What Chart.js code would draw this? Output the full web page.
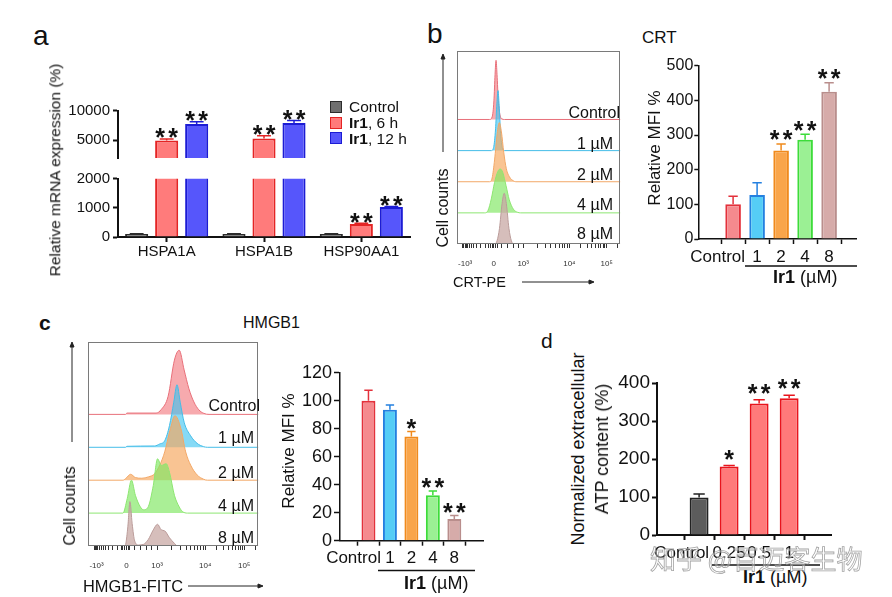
<!DOCTYPE html>
<html>
<head>
<meta charset="utf-8">
<title>Ir1 ICD markers</title>
<script src="https://cdn.jsdelivr.net/npm/chart.js@4.4.1/dist/chart.umd.min.js"></script>
<style>
  html, body { margin: 0; padding: 0; background: #fff; }
  #fig { position: relative; width: 892px; height: 597px; overflow: hidden; font-family: "Liberation Sans", Arial, sans-serif; color: #111; }
  #fig canvas { position: absolute; }
  #fig svg { position: absolute; left: 0; top: 0; }
  .t { position: absolute; white-space: nowrap; line-height: 1; }
</style>
</head>
<body>
<div id="fig">
  <svg width="892" height="597">
    <g stroke="#222" stroke-width="1" fill="#222">
      <line x1="443" y1="152" x2="443" y2="58"/><polygon points="443,54 441,59 445,59"/>
      <line x1="522" y1="282" x2="590" y2="282"/><polygon points="594,282 589,280 589,284"/>
      <line x1="72" y1="442" x2="72" y2="346"/><polygon points="72,342 70,347 74,347"/>
      <line x1="188" y1="586" x2="259" y2="586"/><polygon points="263,586 258,584 258,588"/>
    </g>
    <g stroke="#111" stroke-width="1.5">
      <line x1="745" y1="266" x2="857" y2="266"/>
      <line x1="378" y1="570.5" x2="475" y2="570.5"/>
      <line x1="712" y1="565" x2="820" y2="565"/>
    </g>
  </svg>
</div>
<script>
// ---- a: relative mRNA expression (%)
const genes = ['HSPA1A', 'HSPA1B', 'HSP90AA1'];
const mrnaSeries = ['Control', 'Ir1, 6 h', 'Ir1, 12 h'];
const mrnaCtrl = [100, 100, 100];
const mrnaCtrlErr = [115, 112, 110];
const mrna6h = [4980, 5310, 445];
const mrna6hErr = [5200, 5760, 470];
const mrna12h = [7770, 7910, 1025];
const mrna12hErr = [8140, 8360, 1050];
const mrna6hStars = [2, 2, 2];
const mrna12hStars = [2, 2, 2];

// ---- b / c: relative MFI %
const doseLabels = ['Control', '1', '2', '4', '8'];
const crtMfi = [100, 127, 255, 286, 425];
const crtErr = [123, 162, 274, 302, 451];
const crtStars = [0, 0, 2, 2, 2];
const hmgbMfi = [100, 93.5, 74.5, 32.5, 15.5];
const hmgbErr = [107.5, 97, 78, 35.5, 18];
const hmgbStars = [0, 0, 1, 2, 2];

// ---- d: normalized extracellular ATP
const atpLabels = ['Control', '0.25', '0.5', '1'];
const atpContent = [99, 180, 346, 360];
const atpErr = [108, 183, 356, 368];
const atpStars = [0, 1, 2, 2];

// ---- flow histograms: [position on axis (0-100), height in row units]
const histSamples = ['Control', '1 µM', '2 µM', '4 µM', '8 µM'];
const crtHist = [
  [[0,0],[20,0],[21.5,0.08],[22.6,0.6],[23.3,1.45],[23.9,1.9],[24.5,1.45],[25.3,0.6],[26.3,0.15],[27.5,0.02],[29,0],[100,0]],
  [[0,0],[21,0],[22.4,0.1],[23.6,0.7],[24.4,1.5],[25.1,1.93],[25.8,1.45],[26.7,0.55],[27.7,0.1],[29,0],[100,0]],
  [[0,0],[20,0],[21.5,0.12],[23,0.7],[24.6,1.55],[25.9,1.9],[27.2,1.6],[28.6,0.95],[30.2,0.42],[32.2,0.15],[34.5,0.03],[36,0],[100,0]],
  [[0,0],[17,0],[19,0.08],[21,0.45],[23,0.98],[25,1.33],[26.5,1.41],[28,1.3],[30,0.88],[32,0.42],[34.5,0.12],[37,0.02],[39,0],[100,0]],
  [[0,0],[23,0],[24.5,0.1],[26,0.5],[27.6,1.3],[28.9,1.63],[30.2,1.3],[31.8,0.5],[33.3,0.1],[35,0],[100,0]]
];
const hmgbHist = [
  [[0,0],[22,0],[22.8,0.04],[40,0.04],[43,0.15],[47,0.55],[50.7,1.65],[53.5,1.95],[56.4,1.35],[59.2,0.78],[62.1,0.38],[65,0.14],[68,0.03],[71,0],[100,0]],
  [[0,0],[22,0],[22.8,0.03],[39,0.04],[42,0.1],[45,0.2],[47.8,0.66],[50.3,1.37],[52.2,1.9],[54.1,1.37],[56.4,0.76],[60.2,0.35],[64,0.12],[67.8,0.02],[70,0],[100,0]],
  [[0,0],[20.5,0],[22.1,0.05],[25,0.18],[27.8,0.08],[31.6,0.06],[35.4,0.1],[39.2,0.2],[42.1,0.46],[45,0.86],[48,1.5],[51,1.96],[54.5,1.57],[57.3,0.86],[60.2,0.46],[64,0.16],[67.8,0.03],[70,0],[100,0]],
  [[0,0],[20.5,0],[23,0.44],[25.5,1.0],[27.8,0.54],[30.7,0.19],[32.6,0.1],[35.4,0.2],[38.3,0.84],[40.8,1.65],[43,1.45],[45.9,1.5],[47.8,1.24],[50.7,0.54],[53.5,0.19],[55.4,0.05],[58.3,0],[100,0]],
  [[0,0],[21.5,0],[22.1,0.05],[23.4,0.6],[24.6,1.35],[25.9,0.68],[27.4,0.15],[29.7,0.03],[32.6,0.05],[35.4,0.2],[38.3,0.49],[40.8,0.66],[43,0.49],[45,0.46],[47.8,0.25],[50.7,0.08],[52.6,0],[100,0]]
];
const histTickLabels = ['-10³', '0', '10³', '10⁴', '10⁵'];
const histTickPos = [5, 22.5, 40.5, 68.8, 91.6];

// colours
const aFill = ['#6f6f6f', '#ff7b7b', '#5656fb'];
const aEdge = ['#2c2c2c', '#e42424', '#1c1cd4'];
const doseFill = ['#f58a8e', '#55cdf6', '#f9a54a', '#9bf094', '#d6aba9'];
const doseEdge = ['#e3313b', '#2480e0', '#f08a1c', '#3ddc3a', '#b98e8c'];
const histEdge = ['#e8707a', '#45bde8', '#f2a868', '#8ee672', '#bb9c9a'];
const histFill = ['rgba(240,100,108,0.55)', 'rgba(60,196,240,0.62)', 'rgba(246,168,96,0.68)', 'rgba(130,232,100,0.68)', 'rgba(200,168,164,0.75)'];
const atpFill = ['#5c5c5c', '#ff7a7a', '#ff7a7a', '#ff7a7a'];
const atpEdge = ['#222', '#e8141c', '#e8141c', '#e8141c'];

Chart.defaults.font.family = '"Liberation Sans", Arial, sans-serif';
Chart.defaults.color = '#111';

const fig = document.getElementById('fig');

// canvas placed so that the chart area lands on the given page rectangle
function frame(area, yW, xH, padL, padT, padR) {
  const left = Math.floor(area.l - yW - padL), top = Math.floor(area.t - padT);
  const right = Math.ceil(area.r + padR), bottom = Math.ceil(area.b + xH);
  const c = document.createElement('canvas');
  c.width = right - left; c.height = bottom - top;
  c.style.left = left + 'px'; c.style.top = top + 'px';
  fig.appendChild(c);
  return { canvas: c, padding: { left: area.l - yW - left, top: area.t - top, right: right - area.r, bottom: bottom - area.b - xH } };
}

function text(html, x, y, size, align, opts = {}) {
  const d = document.createElement('div');
  d.className = 't';
  d.innerHTML = html;
  d.style.left = x + 'px';
  d.style.top = y + 'px';
  d.style.fontSize = size + 'px';
  if (opts.bold) d.style.fontWeight = 'bold';
  if (opts.style) Object.assign(d.style, opts.style);
  const ax = align === 'right' ? '-100%' : align === 'center' ? '-50%' : '0';
  d.style.transform = opts.rot ? 'translate(-50%,-50%) rotate(-90deg)' : `translate(${ax},-50%)`;
  fig.appendChild(d);
  return d;
}

// error whiskers (upper only) + significance stars
const errStars = {
  id: 'errStars',
  defaults: { cap: 0.6, lw: 1.5, starSize: 25, starGap: 13, lift: 9 },
  afterDatasetsDraw(chart, args, opts) {
    const ctx = chart.ctx, ys = chart.scales.y;
    chart.data.datasets.forEach((ds, di) => {
      if (!ds.errTop) return;
      chart.getDatasetMeta(di).data.forEach((bar, i) => {
        const d = ds.data[i];
        const v = typeof d === 'object' ? d.y : d;
        const e = ds.errTop[i];
        if (v < ys.min || e > ys.max) return;
        const col = Array.isArray(ds.borderColor) ? ds.borderColor[i] : ds.borderColor;
        const yv = ys.getPixelForValue(v), ye = ys.getPixelForValue(e);
        const half = bar.width * opts.cap / 2;
        ctx.save();
        ctx.strokeStyle = col;
        ctx.lineWidth = opts.lw;
        ctx.beginPath();
        ctx.moveTo(bar.x, yv); ctx.lineTo(bar.x, ye);
        ctx.moveTo(bar.x - half, ye); ctx.lineTo(bar.x + half, ye);
        ctx.stroke();
        const n = ds.stars ? ds.stars[i] : 0;
        ctx.fillStyle = '#111';
        ctx.font = 'bold ' + opts.starSize + 'px "Liberation Sans", Arial';
        ctx.textAlign = 'center';
        ctx.textBaseline = 'alphabetic';
        for (let k = 0; k < n; k++) {
          ctx.fillText('*', bar.x + (k - (n - 1) / 2) * opts.starGap, ye - opts.lift + 0.57 * opts.starSize);
        }
        ctx.restore();
      });
    });
  }
};

// category labels under bars; first one pushed left of the second
const xLabels = {
  id: 'xLabels',
  defaults: { labels: [], size: 17, dy: 18, firstGap: 12 },
  afterDraw(chart, args, opts) {
    const ctx = chart.ctx, xs = chart.scales.x;
    ctx.save();
    ctx.font = opts.size + 'px "Liberation Sans", Arial';
    ctx.fillStyle = '#111';
    ctx.textBaseline = 'middle';
    opts.labels.forEach((lab, i) => {
      let x = xs.getPixelForValue(i);
      if (i === 0) { ctx.textAlign = 'right'; x = xs.getPixelForValue(1) - opts.firstGap; }
      else ctx.textAlign = 'center';
      ctx.fillText(lab, x, chart.chartArea.bottom + opts.dy);
    });
    ctx.restore();
  }
};

const boxFrame = {
  id: 'boxFrame',
  defaults: { color: '#7a7a7a' },
  afterDraw(chart, args, opts) {
    const { left, top, right, bottom } = chart.chartArea;
    const ctx = chart.ctx;
    ctx.save();
    ctx.strokeStyle = opts.color;
    ctx.lineWidth = 1;
    ctx.strokeRect(Math.round(left) + 0.5, Math.round(top) + 0.5, Math.round(right - left) - 1, Math.round(bottom - top) - 1);
    ctx.restore();
  }
};

function yAxis(min, max, ticks, size, tickLen, pad, yW, lw) {
  return {
    min, max,
    afterBuildTicks: s => { s.ticks = ticks.map(v => ({ value: v })); },
    afterFit: s => { s.width = yW; },
    grid: { drawOnChartArea: false, tickLength: tickLen, tickWidth: lw, tickColor: '#111' },
    border: { color: '#111', width: lw },
    ticks: { font: { size }, padding: pad, color: '#111', callback: v => String(v) }
  };
}

function xLinear(min, max, count, xH, lw) {
  const idx = [];
  for (let i = 0; i < count; i++) idx.push({ value: i });
  return {
    type: 'linear', min, max,
    afterBuildTicks: s => { s.ticks = idx.slice(); },
    afterFit: s => { s.height = xH; },
    grid: { drawOnChartArea: false, tickLength: 5, tickWidth: lw, tickColor: '#111' },
    border: { color: '#111', width: lw },
    ticks: { display: false }
  };
}

function baseOpts(padding) {
  return {
    responsive: false, animation: false, maintainAspectRatio: false,
    layout: { padding },
    plugins: { legend: { display: false }, tooltip: { enabled: false } }
  };
}

// ---------- panel a (broken axis: two stacked charts)
function mrnaDatasets() {
  return [
    { label: mrnaSeries[0], data: mrnaCtrl, errTop: mrnaCtrlErr, stars: [0, 0, 0] },
    { label: mrnaSeries[1], data: mrna6h, errTop: mrna6hErr, stars: mrna6hStars },
    { label: mrnaSeries[2], data: mrna12h, errTop: mrna12hErr, stars: mrna12hStars }
  ].map((d, i) => Object.assign(d, {
    backgroundColor: aFill[i], borderColor: aEdge[i], borderWidth: 2,
    categoryPercentage: 0.925, barPercentage: 0.77, clip: 0
  }));
}

function mrnaChart(area, yMin, yMax, ticks, showX) {
  const f = frame(area, 50, showX ? 30 : 0, 6, 16, 10);
  const o = baseOpts(f.padding);
  o.plugins.errStars = { cap: 0.6, lw: 1.5, lift: 7 };
  o.scales = {
    x: showX ? {
      afterFit: s => { s.height = 30; },
      grid: { drawOnChartArea: false, offset: false, tickLength: 5, tickWidth: 2, tickColor: '#111' },
      border: { color: '#111', width: 2 },
      ticks: { font: { size: 15 }, padding: 1, color: '#111' }
    } : { display: false },
    y: yAxis(yMin, yMax, ticks, 15, 5, 3, 50, 2)
  };
  return new Chart(f.canvas, {
    type: 'bar',
    data: { labels: genes, datasets: mrnaDatasets() },
    options: o,
    plugins: [errStars]
  });
}
mrnaChart({ l: 118, t: 110.7, r: 410, b: 169.3 }, 2000, 10000, [5000, 10000], false);
mrnaChart({ l: 118, t: 178.7, r: 410, b: 237 }, 0, 2000, [0, 1000, 2000], true);

// ---------- dose bar charts (b, c, d)
function doseChart(area, values, errs, stars, labels, fills, edges, y, x, lab) {
  const f = frame(area, 58, 32, 2, 18, 8);
  const o = baseOpts(f.padding);
  o.plugins.errStars = { cap: 0.6, lw: 1.5, lift: lab.lift };
  o.plugins.xLabels = { labels, size: lab.size, dy: lab.dy, firstGap: lab.gap };
  o.scales = {
    x: xLinear(x.min, x.max, values.length, 32, y.lw),
    y: yAxis(0, y.max, y.ticks, y.size, y.tickLen, y.pad, 58, y.lw)
  };
  return new Chart(f.canvas, {
    type: 'bar',
    data: {
      datasets: [{
        data: values.map((v, i) => ({ x: i, y: v })),
        errTop: errs, stars,
        backgroundColor: fills, borderColor: edges, borderWidth: 2,
        categoryPercentage: 1, barPercentage: x.bar
      }]
    },
    options: o,
    plugins: [errStars, xLabels]
  });
}

doseChart({ l: 698.3, t: 65.7, r: 856.7, b: 239 }, crtMfi, crtErr, crtStars, doseLabels, doseFill, doseEdge,
  { max: 500, ticks: [0, 100, 200, 300, 400, 500], size: 16, tickLen: 4, pad: 1, lw: 1.5 },
  { min: -0.79, max: 4.49, bar: 0.65 },
  { size: 17, dy: 18.3, gap: 12, lift: 10 });

doseChart({ l: 340, t: 372.7, r: 483, b: 540.7 }, hmgbMfi, hmgbErr, hmgbStars, doseLabels, doseFill, doseEdge,
  { max: 120, ticks: [0, 20, 40, 60, 80, 100, 120], size: 18, tickLen: 6, pad: 2, lw: 1.5 },
  { min: -0.66, max: 4.67, bar: 0.65 },
  { size: 17, dy: 17.6, gap: 9, lift: 9 });

doseChart({ l: 657, t: 383, r: 831.7, b: 535 }, atpContent, atpErr, atpStars, atpLabels, atpFill, atpEdge,
  { max: 400, ticks: [0, 100, 200, 300, 400], size: 19, tickLen: 5, pad: 2, lw: 2 },
  { min: -0.675, max: 3.69, bar: 0.63 },
  { size: 17, dy: 18.3, gap: 20, lift: 12 });

// ---------- flow histograms
const histTicks = [];
for (let k = 12; k >= 2; k--) histTicks.push(22.5 - 17.5 * Math.log10(k));
histTicks.push(19.5, 20.5, 21.5, 22.5, 23.5, 24.5, 27, 31, 34.5, 37.5, 40.5);
for (let k = 2; k <= 10; k++) histTicks.push(40.5 + 28.3 * Math.log10(k));
for (let k = 2; k <= 9; k++) histTicks.push(68.8 + 22.8 * Math.log10(k));
histTicks.push(91.6, 98.5);
const histMajor = {};
histTickPos.forEach((p, i) => { histMajor[p] = histTickLabels[i]; });

function histChart(area, samples) {
  const f = frame(area, 0, 34, 12, 6, 6);
  const n = samples.length;
  const o = baseOpts(f.padding);
  o.plugins.boxFrame = { color: '#7a7a7a' };
  o.scales = {
    x: {
      type: 'linear', min: 0, max: 100,
      afterBuildTicks: s => { s.ticks = histTicks.map(v => ({ value: v })); },
      afterFit: s => { s.height = 34; },
      grid: { drawOnChartArea: false, tickLength: 4, tickColor: '#333', tickWidth: 1 },
      border: { display: false },
      ticks: { autoSkip: false, maxRotation: 0, padding: 11, font: { size: 8 }, color: '#333',
        callback: v => histMajor[v] !== undefined ? histMajor[v] : '' }
    },
    y: { display: false, min: 0, max: 6.2 }
  };
  return new Chart(f.canvas, {
    type: 'line',
    data: {
      datasets: samples.map((pts, i) => ({
        label: histSamples[i],
        data: pts.map(p => ({ x: p[0], y: (n - 1 - i) + p[1] })),
        borderColor: histEdge[i], backgroundColor: histFill[i], borderWidth: 1,
        pointRadius: 0, fill: { value: n - 1 - i },
        cubicInterpolationMode: 'monotone', order: n - i
      }))
    },
    options: o,
    plugins: [boxFrame]
  });
}
histChart({ l: 457, t: 51, r: 623, b: 244 }, crtHist);
histChart({ l: 88, t: 342, r: 261, b: 546 }, hmgbHist);

// ---------- text
text('a', 33, 36, 28, 'left');
text('b', 427, 34, 28, 'left');
text('c', 39, 322, 21, 'left', { bold: true });
text('d', 541, 340, 21, 'left');

text('Relative mRNA expression (%)', 55, 170, 15.5, 'center', { rot: true });
mrnaSeries.forEach((name, i) => {
  const y = 107.3 + i * 15.8;
  const sq = document.createElement('div');
  Object.assign(sq.style, { position: 'absolute', left: '330px', top: (y - 6.5) + 'px', width: '10px', height: '10px',
    background: aFill[i], border: '1.5px solid ' + aEdge[i] });
  fig.appendChild(sq);
  text(name.replace('Ir1', '<b>Ir1</b>'), 349, y, 15.5, 'left');
});

text('CRT', 642, 37, 17, 'left');
text('Cell counts', 443, 208, 16, 'center', { rot: true });
const crtLabelY = [112.5, 144, 174.5, 205, 234];
histSamples.forEach((s, i) => text(s, i === 0 ? 620 : 613, crtLabelY[i], 16, 'right'));
text('CRT-PE', 453, 282, 14.5, 'left');
text('Relative MFI %', 653.5, 147.5, 17, 'center', { rot: true });
text('<b>Ir1</b> (µM)', 773, 277, 18, 'left');

text('HMGB1', 243, 323, 16, 'left');
text('Cell counts', 70, 506, 16, 'center', { rot: true });
const hmgbLabelY = [406, 438, 472.5, 506, 537.5];
histSamples.forEach((s, i) => text(s, i === 0 ? 260 : 254, hmgbLabelY[i], 16, 'right'));
text('HMGB1-FITC', 83, 586, 16.4, 'left');
text('Relative MFI %', 287.5, 450.5, 17, 'center', { rot: true });
text('<b>Ir1</b> (µM)', 404, 582.7, 18, 'left');

text('Normalized extracellular', 578, 449, 18, 'center', { rot: true });
text('ATP content (%)', 601.7, 449, 18, 'center', { rot: true });
text('<b>Ir1</b> (µM)', 743, 577, 18, 'left');

text('知乎 @百迈客生物', 650, 558, 26, 'left', { style: {
  fontFamily: '"Noto Sans CJK SC", sans-serif', color: 'rgba(255,255,255,0.35)',
  webkitTextStroke: '0.8px rgba(140,140,140,0.8)' } });
</script>
</body>
</html>
